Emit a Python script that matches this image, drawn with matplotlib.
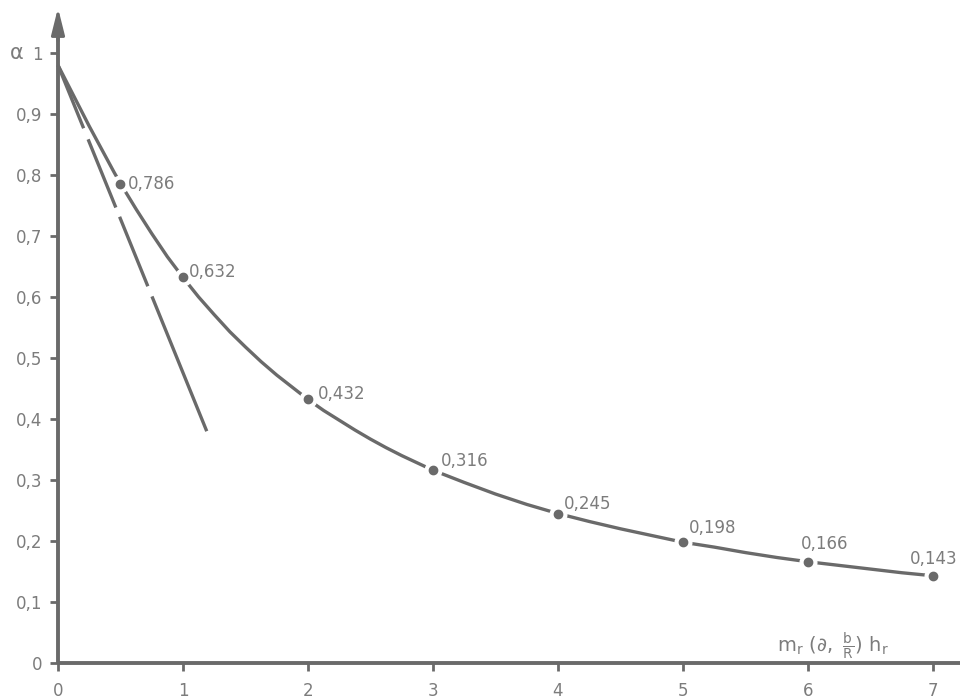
import matplotlib
matplotlib.use("Agg")
import matplotlib.pyplot as plt

plt.rcParams['lines.scale_dashes'] = False
plt.rcParams['mathtext.default'] = 'regular'

# ---- data ----
curve_x = [0, 0.05, 0.1, 0.15, 0.2, 0.25, 0.3, 0.35, 0.4, 0.45, 0.5, 0.625, 0.75,
           0.875, 1.0, 1.125, 1.25, 1.375, 1.5, 1.625, 1.75, 1.875, 2.0, 2.125,
           2.25, 2.375, 2.5, 2.625, 2.75, 2.875, 3.0, 3.25, 3.5, 3.75, 4.0, 4.25,
           4.5, 4.75, 5.0, 5.25, 5.5, 5.75, 6.0, 6.25, 6.5, 6.75, 7.0]
curve_y = [0.980, 0.960, 0.940, 0.920, 0.900, 0.880, 0.861, 0.842, 0.823, 0.804,
           0.786, 0.744, 0.704, 0.666, 0.632, 0.600, 0.571, 0.543, 0.518, 0.494,
           0.472, 0.452, 0.432, 0.414, 0.398, 0.382, 0.367, 0.353, 0.340, 0.328,
           0.316, 0.296, 0.277, 0.260, 0.245, 0.232, 0.220, 0.209, 0.198, 0.190,
           0.181, 0.173, 0.166, 0.160, 0.154, 0.148, 0.143]

point_x = [0.5, 1, 2, 3, 4, 5, 6, 7]
point_y = [0.786, 0.632, 0.432, 0.316, 0.245, 0.198, 0.166, 0.143]
point_labels = ["0,786", "0,632", "0,432", "0,316", "0,245", "0,198", "0,166", "0,143"]

tangent_x = [0, 1.19]
tangent_y = [0.98, 0.38]

x_ticks = [0, 1, 2, 3, 4, 5, 6, 7]
x_ticklabels = ["0", "1", "2", "3", "4", "5", "6", "7"]
y_ticks = [0, 0.1, 0.2, 0.3, 0.4, 0.5, 0.6, 0.7, 0.8, 0.9, 1.0]
y_ticklabels = ["0", "0,1", "0,2", "0,3", "0,4", "0,5", "0,6", "0,7", "0,8", "0,9", "1"]

# ---- style ----
LINE = "#6a6a6a"
TEXT = "#7c7c7c"

fig = plt.figure(figsize=(9.6, 6.99), dpi=100)
ax = fig.add_axes([0, 0, 1, 1])
ax.set_xlim(-0.464, 7.216)
ax.set_ylim(-0.059, 1.0869)

for s in ("top", "right"):
    ax.spines[s].set_visible(False)
ax.spines["left"].set_position(("data", 0))
ax.spines["bottom"].set_position(("data", 0))
ax.spines["left"].set_bounds(0, 1.04)
ax.spines["bottom"].set_bounds(0, 7.3)
for s in ("left", "bottom"):
    ax.spines[s].set_color(LINE)
    ax.spines[s].set_linewidth(2.8)
    ax.spines[s].set_capstyle("butt")

# arrow head on y axis
ax.annotate("", xy=(0, 1.074), xytext=(0, 1.02),
            arrowprops=dict(arrowstyle="-|>,head_length=1.6,head_width=0.4",
                            color=LINE, lw=2.2, shrinkA=0, shrinkB=0),
            annotation_clip=False)

ax.set_xticks(x_ticks)
ax.set_xticklabels(x_ticklabels)
ax.set_yticks(y_ticks)
ax.set_yticklabels(y_ticklabels)
ax.tick_params(axis="x", direction="out", length=6, width=2, color=LINE,
               labelsize=12, labelcolor=TEXT, pad=8)
ax.tick_params(axis="y", direction="out", length=6, width=2, color=LINE,
               labelsize=12, labelcolor=TEXT, pad=5)

ax.text(-0.33, 1.0, "α", fontsize=15, color=TEXT, ha="center", va="center")

# curve
ax.plot(curve_x, curve_y, color=LINE, lw=2.4, solid_capstyle="butt",
        solid_joinstyle="round", zorder=2)

# tangent line with small breaks
tl, = ax.plot(tangent_x, tangent_y, color=LINE, lw=2.4, zorder=2)
tl.set_dashes((49, 8.6, 53, 7.2, 54, 7.9, 140, 10))
tl.set_dash_capstyle("butt")

# points with white halo (gaps in the curve around the dots)
ax.plot(point_x, point_y, "o", ms=12, color="white", mec="white", zorder=3)
ax.plot(point_x, point_y, "o", ms=6, color=LINE, mec=LINE, zorder=4)

offsets = [(5, 0), (4, 4), (7, 4), (6, 7), (4, 7), (4, 10), (-5, 13), (-17, 12)]
for x, y, lab, (dx, dy) in zip(point_x, point_y, point_labels, offsets):
    ax.annotate(lab, xy=(x, y), xytext=(dx, dy), textcoords="offset points",
                ha="left", va="center", fontsize=12, color=TEXT, zorder=5,
                annotation_clip=False)

ax.text(6.2, 0.027, r"$m_r\ (\partial,\ \frac{b}{R})\ h_r$", fontsize=14,
        color=TEXT, ha="center", va="center")

fig.savefig("out.png", dpi=100, facecolor="white")
